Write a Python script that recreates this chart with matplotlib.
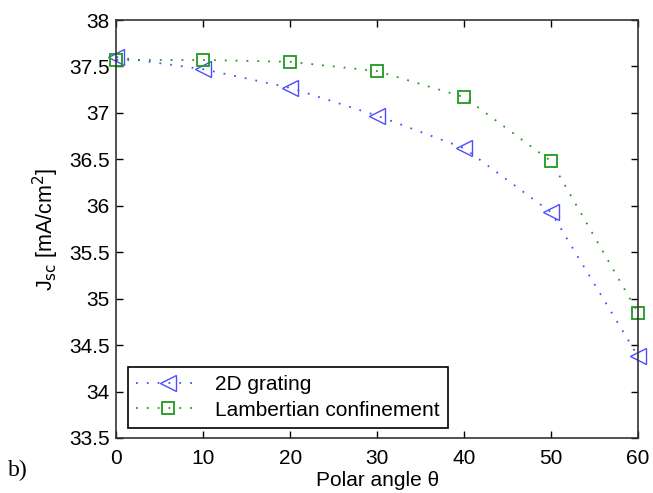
import matplotlib
matplotlib.use("Agg")
import matplotlib.pyplot as plt

angles = [0, 10, 20, 30, 40, 50, 60]
jsc_grating = [37.60, 37.47, 37.27, 36.97, 36.62, 35.93, 34.38]
jsc_lambert = [37.57, 37.57, 37.55, 37.45, 37.17, 36.48, 34.85]

xticks = [0, 10, 20, 30, 40, 50, 60]
yticks = [33.5, 34, 34.5, 35, 35.5, 36, 36.5, 37, 37.5, 38]

plt.rcParams['font.family'] = ['Liberation Sans', 'DejaVu Sans']

fig = plt.figure(figsize=(6.53, 4.93), dpi=100)
ax = fig.add_axes([0.1784, 0.1116, 0.7986, 0.8478])

ax.plot(angles, jsc_grating, color='#4d4dff', linestyle=(0, (1, 5)), lw=1.3,
        marker='<', markersize=12, markerfacecolor='none', markeredgewidth=1,
        label='2D grating', clip_on=False)
ax.plot(angles, jsc_lambert, color='#1f9a1f', linestyle=(0, (1, 5)), lw=1.3,
        marker='s', markersize=8, markerfacecolor='none', markeredgewidth=1.3,
        label='Lambertian confinement', clip_on=False)

ax.set_xlim(0, 60)
ax.set_ylim(33.5, 38)
ax.set_xticks(xticks)
ax.set_yticks(yticks)
ax.set_yticklabels([('%g' % v) for v in yticks])
ax.tick_params(direction='in', top=True, right=True, length=5, width=1,
               labelsize=15, pad=5)
ax.tick_params(axis='x', pad=8)
for s in ax.spines.values():
    s.set_linewidth(1.2)
    s.set_color('#333333')

ax.set_xlabel('Polar angle θ', fontsize=15, labelpad=2)
ax.set_ylabel(r'J$_{\rm sc}$ [mA/cm$^2$]', fontsize=15.5, labelpad=6)

leg = ax.legend(loc='lower left', bbox_to_anchor=(0.022, 0.024), fontsize=15,
                borderaxespad=0, fancybox=False, edgecolor='black',
                framealpha=1, handlelength=3.0, handletextpad=0.8,
                borderpad=0.4, labelspacing=0.3)
leg.get_frame().set_linewidth(1.2)

fig.text(0.012, 0.035, 'b)', fontsize=17, family='Liberation Serif')

fig.savefig('out.png', dpi=100)
